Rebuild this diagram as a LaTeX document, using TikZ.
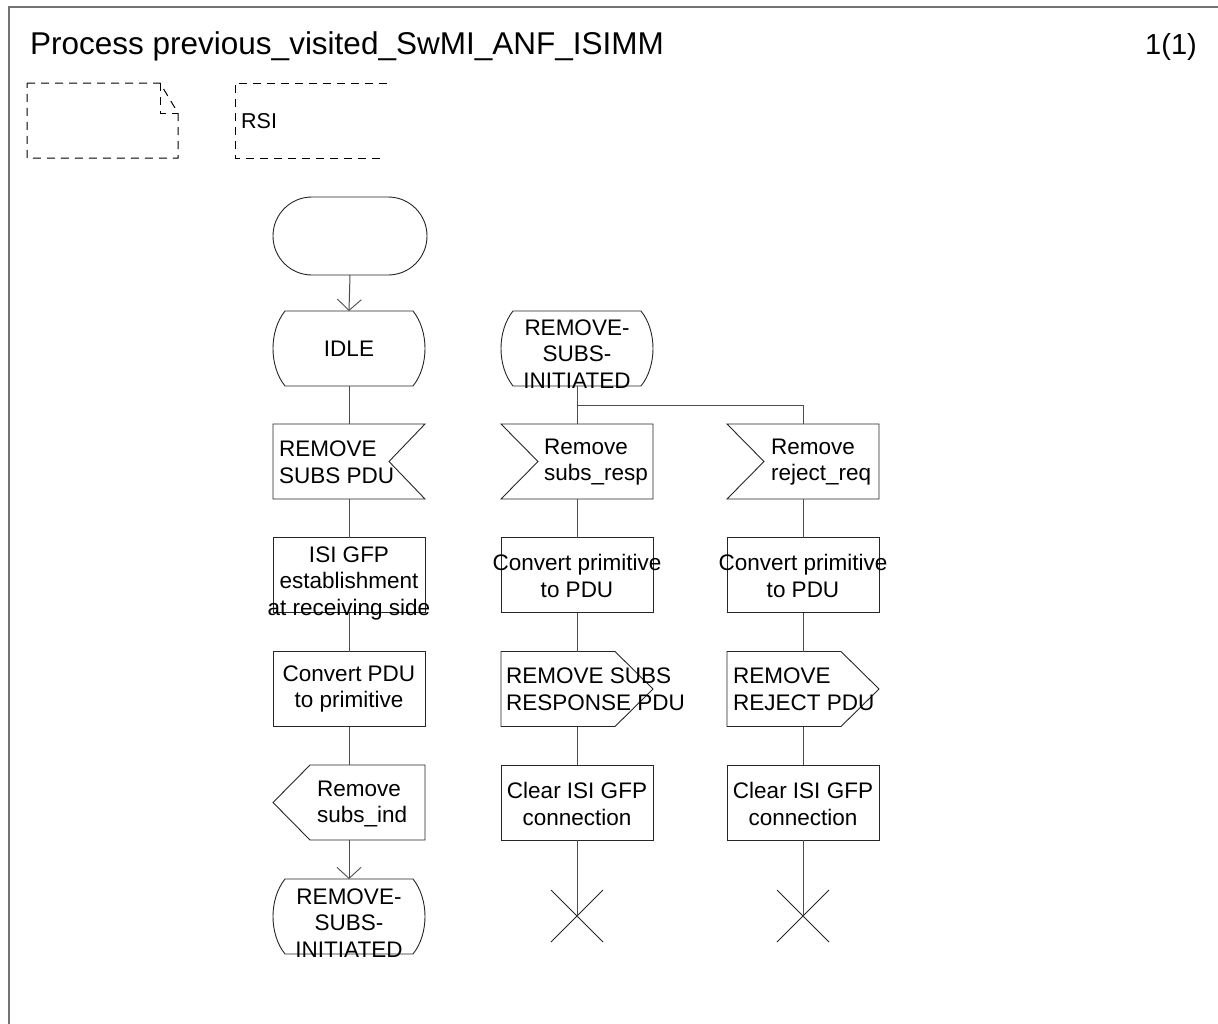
\documentclass[tikz,border=0pt]{standalone}
\usepackage{fontspec}
\setmainfont{Liberation Sans}
\usetikzlibrary{arrows.meta,calc}
\newcommand\shpTask[1]{\draw[shp] (#1.north west) rectangle (#1.south east);}
\newcommand\shpState[1]{\draw[shp] ($(#1.north west)+(12,0)$) -- ($(#1.north east)+(-12,0)$) .. controls ($(#1.north east)+(4,20)$) and ($(#1.south east)+(4,-20)$) .. ($(#1.south east)+(-12,0)$) -- ($(#1.south west)+(12,0)$) .. controls ($(#1.south west)+(-4,-20)$) and ($(#1.north west)+(-4,20)$) .. ($(#1.north west)+(12,0)$) -- cycle;}
\newcommand\shpInR[1]{\draw[shp] (#1.north west) -- (#1.north east) -- ($(#1.east)+(-36,0)$) -- (#1.south east) -- (#1.south west) -- cycle;}
\newcommand\shpInL[1]{\draw[shp] (#1.north west) -- (#1.north east) -- (#1.south east) -- (#1.south west) -- ($(#1.west)+(37,0)$) -- cycle;}
\newcommand\shpOutR[1]{\draw[shp] (#1.north west) -- ($(#1.north east)+(-38,0)$) -- (#1.east) -- ($(#1.south east)+(-38,0)$) -- (#1.south west) -- cycle;}
\newcommand\shpOutL[1]{\draw[shp] (#1.west) -- ($(#1.north west)+(37,0)$) -- (#1.north east) -- (#1.south east) -- ($(#1.south west)+(37,0)$) -- cycle;}
\newcommand\shpCross[1]{\draw[shp] ($(#1)+(-26,-26)$) -- ($(#1)+(26,26)$); \draw[shp] ($(#1)+(-26,26)$) -- ($(#1)+(26,-26)$);}
\begin{document}
\begin{tikzpicture}[x=1pt,y=-1pt,
  shp/.style={draw=black!85, line width=0.9pt},
  con/.style={draw=black!70, line width=1pt},
  arr/.style={con, -{Straight Barb[length=11pt,width=24pt,line width=0.9pt]}},
  dsh/.style={draw=black, line width=1pt, dash pattern=on 8pt off 6pt},
  sym/.style={minimum width=152pt, minimum height=75pt, inner sep=0pt, outer sep=0pt},
  txt/.style={font=\fontsize{22.5}{26.5}\selectfont, align=center, inner sep=0pt},
  txtl/.style={txt, align=left, anchor=west},
]
\useasboundingbox (0,0) rectangle (1218,1023);
% frame
\draw[draw=black!55, line width=1.6pt] (9,1040) -- (9,7) -- (1240,7);
\node[anchor=base west, inner sep=0, font=\fontsize{31.5}{36}\selectfont] (title) at (30,54) {Process previous\_visited\_SwMI\_ANF\_ISIMM};
\node[anchor=base east, inner sep=0, font=\fontsize{29}{34}\selectfont] (page) at (1197,54) {1(1)};
% dashed symbols
\draw[dsh] (27,83) -- (160,83) -- (178,113) -- (178,158) -- (27,158) -- cycle;
\draw[dsh] (160,83) -- (160,113) -- (178,113);
\draw[dsh] (387,83) -- (235,83) -- (235,158) -- (382,158);
\node[anchor=west, inner sep=0, font=\fontsize{21.5}{24}\selectfont] (rsi) at (241,121) {RSI};

% symbol nodes
\node[sym, minimum width=154pt, minimum height=78pt] (start) at (350,236) {};
\node[sym] (idle) at (349,348.5) {};
\node[sym] (in1) at (349,461.5) {};
\node[sym] (gfp1) at (349,575) {};
\node[sym] (conv1) at (349,689) {};
\node[sym] (out1) at (349,802.5) {};
\node[sym] (st1) at (349,916.5) {};
\node[sym] (st2) at (577,348.5) {};
\node[sym] (in2) at (577,461.5) {};
\node[sym] (conv2) at (577,575) {};
\node[sym] (out2) at (577,689) {};
\node[sym] (clr2) at (577,802.5) {};
\coordinate (x2) at (577,916);
\node[sym] (in3) at (803,461.5) {};
\node[sym] (conv3) at (803,575) {};
\node[sym] (out3) at (803,689) {};
\node[sym] (clr3) at (803,802.5) {};
\coordinate (x3) at (803,916);
\coordinate (br) at (577,405.5);

% outlines
\draw[shp, rounded corners=38.9pt] (start.north west) rectangle (start.south east);
\shpState{idle}
\shpInR{in1}
\shpTask{gfp1}
\shpTask{conv1}
\shpOutL{out1}
\shpState{st1}
\shpState{st2}
\shpInL{in2}
\shpTask{conv2}
\shpOutR{out2}
\shpTask{clr2}
\shpCross{x2}
\shpInL{in3}
\shpTask{conv3}
\shpOutR{out3}
\shpTask{clr3}
\shpCross{x3}

% connectors
\draw[arr] (start.south) -- (idle.north);
\draw[con] (idle.south) -- (in1.north);
\draw[con] (in1.south) -- (gfp1.north);
\draw[con] (gfp1.south) -- (conv1.north);
\draw[con] (conv1.south) -- (out1.north);
\draw[arr] (out1.south) -- (st1.north);
\draw[con] (st2.south) -- (in2.north);
\draw[con] (br) -| (in3.north);
\draw[con] (in2.south) -- (conv2.north);
\draw[con] (conv2.south) -- (out2.north);
\draw[con] (out2.south) -- (clr2.north);
\draw[con] (clr2.south) -- (x2);
\draw[con] (in3.south) -- (conv3.north);
\draw[con] (conv3.south) -- (out3.north);
\draw[con] (out3.south) -- (clr3.north);
\draw[con] (clr3.south) -- (x3);

% texts
\node[txt] (tidle) at (349,349) {IDLE};
\node[txt] (tst2) at (577,354) {REMOVE-\\SUBS-\\INITIATED};
\node[txtl] (tin1) at (279,462) {REMOVE\\SUBS PDU};
\node[txtl] (tin2) at (544,462) {Remove\\subs\_resp};
\node[txtl] (tin3) at (771,462) {Remove\\reject\_req};
\node[txt] (tgfp1) at (349,583) {ISI GFP\\establishment\\at receiving side};
\node[txt] (tconv1) at (349,689) {Convert PDU\\to primitive};
\node[txt] (tconv2) at (577,576) {Convert primitive\\to PDU};
\node[txt] (tconv3) at (803,576) {Convert primitive\\to PDU};
\node[txtl] (tout2) at (506,689) {REMOVE SUBS\\RESPONSE PDU};
\node[txtl] (tout3) at (733,689) {REMOVE\\REJECT PDU};
\node[txtl] (tout1) at (317,804) {Remove\\subs\_ind};
\node[txt] (tclr2) at (577,804) {Clear ISI GFP\\connection};
\node[txt] (tclr3) at (803,804) {Clear ISI GFP\\connection};
\node[txt] (tst1) at (349,923) {REMOVE-\\SUBS-\\INITIATED};
\end{tikzpicture}
\end{document}
